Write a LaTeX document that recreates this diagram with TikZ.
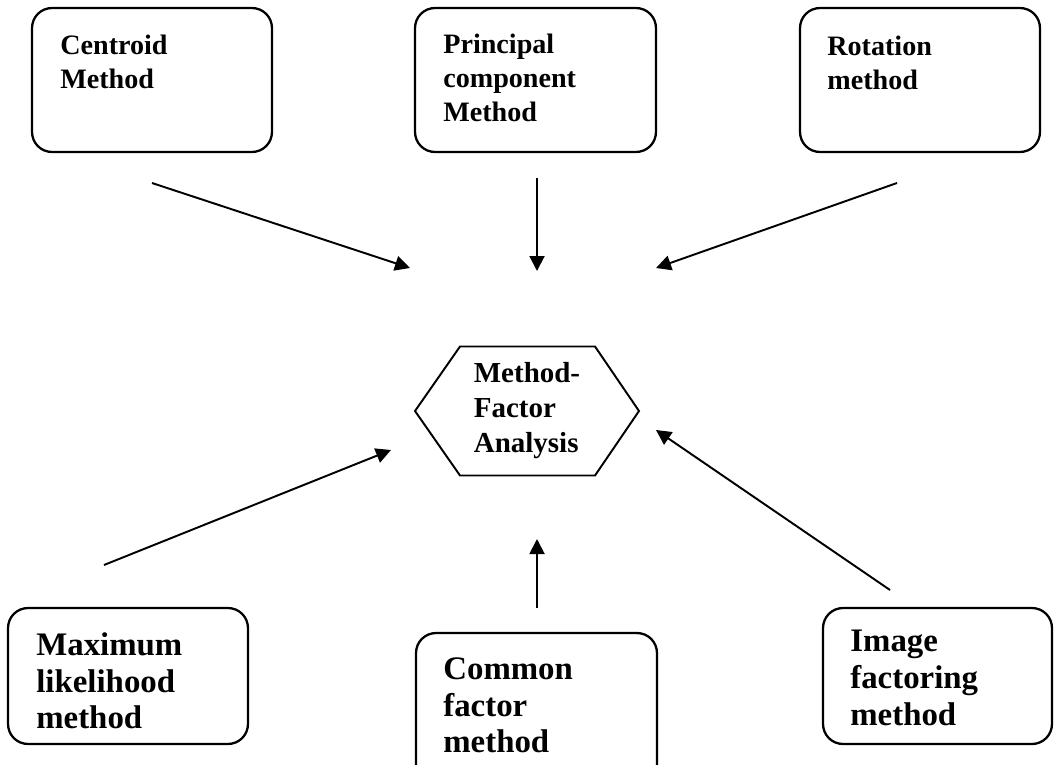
\documentclass[tikz,border=0pt]{standalone}
\usepackage{fontspec}
\setmainfont{Liberation Serif}
\usetikzlibrary{arrows.meta}

\begin{document}
\begin{tikzpicture}[x=0.02cm, y=-0.02cm,
    box/.style={draw, rounded corners=0.4cm, line width=1.3pt, minimum width=4.8cm, minimum height=2.88cm},
    lbl/.style={anchor=north west, inner sep=0, align=left, font=\bfseries\fontsize{16}{19.3}\selectfont},
    biglbl/.style={lbl, font=\bfseries\fontsize{18.7}{21}\selectfont},
    arr/.style={line width=1.1pt, -{Triangle[length=0.3cm, width=0.3cm]}}]
        \useasboundingbox (0,0) rectangle (1054,764);

        % top row
        \node[box] (B1) at (152,80) {};
        \node[box, minimum width=4.82cm] (B2) at (535.5,80) {};
        \node[box] (B3) at (920,80) {};
        \node[lbl] (L1) at (60,35) {Centroid\\Method};
        \node[lbl] (L2) at (443,34) {Principal\\component\\Method};
        \node[lbl] (L3) at (827,36) {Rotation\\method};

        % bottom row
        \node[box, minimum height=2.72cm] (B4) at (128,676) {};
        \node[box, minimum width=4.82cm, minimum height=3.14cm] (B5) at (536.5,711.5) {};
        \node[box, minimum width=4.58cm, minimum height=2.72cm] (B6) at (937.5,676) {};
        \node[biglbl] (L4) at (36,632) {Maximum\\likelihood\\method};
        \node[biglbl] (L5) at (443,657) {Common\\factor\\method};
        \node[biglbl] (L6) at (850,630) {Image\\factoring\\method};

        % centre
        \node[inner sep=0, align=left, font=\bfseries\fontsize{16.5}{19.9}\selectfont] (H) at (527,411) {Method-\\Factor\\Analysis};
        \draw[line width=1.1pt] (H.center) ++(-112,0) -- ++(45,-64.5) -- ++(135,0) -- ++(44,64.5)
          -- ++(-44,64.5) -- ++(-135,0) -- cycle;

        \coordinate (s1) at (152,183); \coordinate (e1) at (410,268);
        \coordinate (s2) at (537,178); \coordinate (e2) at (537,271);
        \coordinate (s3) at (897,183); \coordinate (e3) at (656,268);
        \coordinate (s4) at (104,565); \coordinate (e4) at (391,450);
        \coordinate (s5) at (537,608); \coordinate (e5) at (537,539);
        \coordinate (s6) at (890,590); \coordinate (e6) at (656,430);

        \foreach \i in {1,...,6}
          \draw[arr] (s\i) -- (e\i);
\end{tikzpicture}
\end{document}
